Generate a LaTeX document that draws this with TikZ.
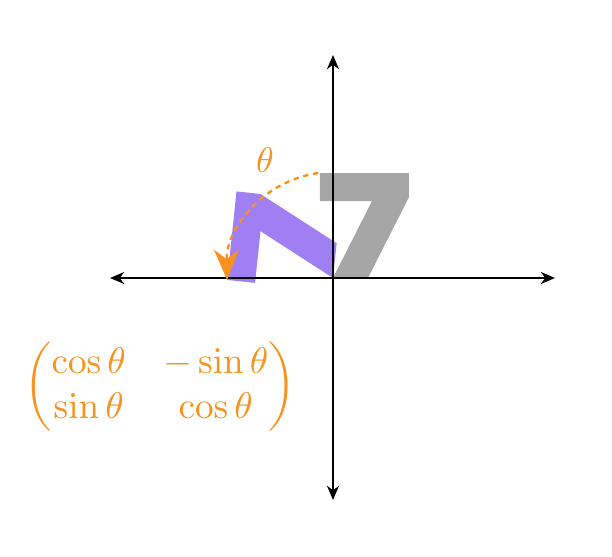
\documentclass[tikz,border=0pt]{standalone}
\usepackage{amsmath}
\usetikzlibrary{arrows.meta}
\definecolor{myorange}{RGB}{247,147,30}
\definecolor{mypurple}{RGB}{64,0,230}
\tikzset{
  axisline/.style={line width=0.45pt, black, {Stealth[length=4pt,width=3.4pt]}-{Stealth[length=4pt,width=3.4pt]}},
  rotarc/.style={myorange, line width=0.65pt, dash pattern=on 1.5pt off 1.3pt, -{Stealth[length=8.5pt,width=7pt,inset=2.7pt]}},
  orangetext/.style={text=myorange, inner sep=0pt}
}
\begin{document}
\begin{tikzpicture}[x=0.28pt,y=0.28pt]
\useasboundingbox (-333,-278) rectangle (279,278);
% grey seven
\fill[black, fill opacity=0.35] (-13,105) -- (76,105) -- (76,81) -- (35,0) -- (0,0) -- (39,77) -- (-13,77) -- cycle;
% rotated seven
\begin{scope}[rotate=84]
\fill[mypurple, fill opacity=0.5] (-13,105) -- (76,105) -- (76,81) -- (35,0) -- (0,0) -- (39,77) -- (-13,77) -- cycle;
\end{scope}
% axes
\coordinate (xl) at (-223,0);
\coordinate (xr) at (222,0);
\coordinate (yt) at (0,223);
\coordinate (yb) at (0,-222);
\draw[axisline] (xl) -- (xr);
\draw[axisline] (yb) -- (yt);
% arc
\coordinate (arcstart) at (98:106);
\draw[rotarc] (arcstart) arc[start angle=98, end angle=181, radius=106];
\node[orangetext] (theta) at (-68,118) {$\theta$};
\node[orangetext, scale=1.04] (mat) at (-173,-109) {$\begin{pmatrix}\cos\theta & -\sin\theta\\ \sin\theta & \cos\theta\end{pmatrix}$};
\end{tikzpicture}
\end{document}
